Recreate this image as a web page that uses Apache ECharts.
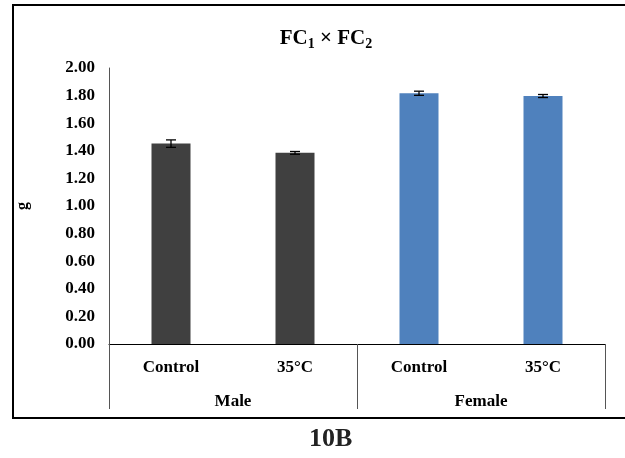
<!DOCTYPE html>
<html>
<head>
<meta charset="utf-8">
<script src="https://cdn.jsdelivr.net/npm/echarts@6/dist/echarts.min.js"></script>
<style>html,body{margin:0;padding:0;background:#fff;}#c{width:625px;height:458px;}</style>
</head>
<body>
<div id="c"></div>
<script>
const categories = ['Control', '35°C', 'Control', '35°C'];
const groups = ['Male', 'Female'];
const means = [1.452, 1.385, 1.817, 1.797];
const errors = [0.027, 0.010, 0.015, 0.011];
const barColors = ['#404040', '#404040', '#4F81BD', '#4F81BD'];
const yTicks = { min: 0, max: 2, interval: 0.2 };

const font = '"Liberation Serif", "Times New Roman", serif';
const chart = echarts.init(document.getElementById('c'));

chart.setOption({
  animation: false,
  backgroundColor: '#fff',
  title: {
    text: 'FC{s|1} × FC{s|2}',
    left: 321, top: 22, textAlign: 'center',
    textStyle: {
      fontFamily: font, fontWeight: 'bold', fontSize: 21, color: '#000', lineHeight: 24,
      rich: {
        s: { fontFamily: font, fontWeight: 'bold', fontSize: 14, color: '#000', lineHeight: 12, verticalAlign: 'bottom' }
      }
    }
  },
  grid: { left: 109, right: 20, top: 68, bottom: 114, containLabel: false },
  xAxis: [
    {
      type: 'category', data: categories, position: 'bottom',
      axisLine: { show: true, lineStyle: { color: '#000', width: 1 } },
      axisTick: { show: false },
      axisLabel: { margin: 15, fontFamily: font, fontWeight: 'bold', fontSize: 17, color: '#000' }
    },
    {
      type: 'category', data: groups, position: 'bottom', gridIndex: 0,
      axisLine: { show: false },
      axisTick: { show: true, length: 65, alignWithLabel: false, lineStyle: { color: '#555', width: 1 } },
      axisLabel: { margin: 49, fontFamily: font, fontWeight: 'bold', fontSize: 17, color: '#000' },
      splitLine: { show: false }
    }
  ],
  yAxis: {
    type: 'value', min: yTicks.min, max: yTicks.max, interval: yTicks.interval,
    name: 'g', nameLocation: 'middle', nameGap: 78, nameRotate: 90,
    nameTextStyle: { fontFamily: font, fontWeight: 'bold', fontSize: 16, color: '#000' },
    axisLine: { show: true, lineStyle: { color: '#555', width: 1 } },
    axisTick: { show: false },
    splitLine: { show: false },
    axisLabel: { margin: 14, fontFamily: font, fontWeight: 'bold', fontSize: 17, color: '#000',
      formatter: v => v.toFixed(2) }
  },
  series: [
    {
      type: 'bar', xAxisIndex: 0, barWidth: 39,
      data: means.map((v, i) => ({ value: v, itemStyle: { color: barColors[i] } }))
    },
    {
      type: 'custom', xAxisIndex: 0,
      data: means.map((v, i) => [i, v - errors[i], v + errors[i]]),
      renderItem: function (params, api) {
        const lo = api.coord([api.value(0), api.value(1)]);
        const hi = api.coord([api.value(0), api.value(2)]);
        const hw = 5;
        const st = { stroke: '#000', lineWidth: 1.3 };
        return {
          type: 'group',
          children: [
            { type: 'line', shape: { x1: lo[0], y1: lo[1], x2: hi[0], y2: hi[1] }, style: st },
            { type: 'line', shape: { x1: lo[0] - hw, y1: lo[1], x2: lo[0] + hw, y2: lo[1] }, style: st },
            { type: 'line', shape: { x1: hi[0] - hw, y1: hi[1], x2: hi[0] + hw, y2: hi[1] }, style: st }
          ]
        };
      },
      z: 5
    }
  ],
  graphic: [
    { type: 'rect', shape: { x: 13, y: 5, width: 620, height: 413 }, style: { fill: 'none', stroke: '#000', lineWidth: 2 }, silent: true },
    { type: 'text', left: 309, top: 426, style: { text: '10B', fontFamily: font, fontWeight: 'bold', fontSize: 26, fill: '#222' } }
  ]
});
</script>
</body>
</html>
